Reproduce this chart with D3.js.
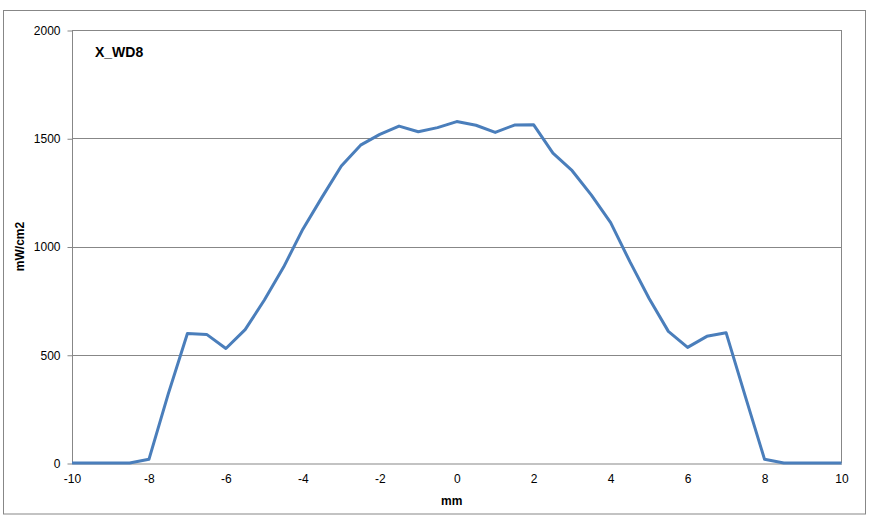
<!DOCTYPE html>
<html><head><meta charset="utf-8">
<script src="https://cdn.jsdelivr.net/npm/d3@7/dist/d3.min.js"></script>
<style>body{margin:0;background:#fff}svg{display:block}text{font-family:"Liberation Sans",Arial,sans-serif}</style>
</head><body><svg id="c" width="870" height="526"></svg>
<script>
const xValues = [-10,-9.5,-9,-8.5,-8,-7.5,-7,-6.5,-6,-5.5,-5,-4.5,-4,-3.5,-3,-2.5,-2,-1.5,-1,-0.5,0,0.5,1,1.5,2,2.5,3,3.5,4,4.5,5,5.5,6,6.5,7,7.5,8,8.5,9,9.5,10];
const yValues = [0,0,0,0,17,318,598,594,529,616,753,905,1080,1228,1372,1468,1518,1556,1530,1549,1577,1560,1527,1561,1562,1431,1350,1237,1110,930,760,608,534,585,602,308,17,0,0,0,0];
const xTicks = [-10,-8,-6,-4,-2,0,2,4,6,8,10];
const yTicks = [0,500,1000,1500,2000];
const title = "X_WD8", xLabel = "mm", yLabel = "mW/cm2";

const svg = d3.select("#c");
const L = 72, R = 841.5, T = 30, B = 463;
const x = d3.scaleLinear().domain([-10,10]).range([L,R]);
const y = d3.scaleLinear().domain([0,2000]).range([B,T]);
const grid = "#878787";

svg.append("rect").attr("x",3.5).attr("y",10.5).attr("width",862).attr("height",503.5)
  .attr("fill","none").attr("stroke",grid).attr("stroke-width",1);

// gridlines
svg.append("g").selectAll("line").data(yTicks.filter(d=>d>0)).join("line")
  .attr("x1",L).attr("x2",R).attr("y1",d=>Math.round(y(d))+0.5).attr("y2",d=>Math.round(y(d))+0.5)
  .attr("stroke",grid).attr("stroke-width",1);
// right border of plot
svg.append("line").attr("x1",R).attr("x2",R).attr("y1",T).attr("y2",B).attr("stroke",grid);

// y axis
const ya = svg.append("g").attr("transform",`translate(${L+0.5},0.5)`)
  .call(d3.axisLeft(y).tickValues(yTicks).tickSize(5).tickSizeOuter(0).tickPadding(7).tickFormat(d=>String(d)));
ya.selectAll("path,line").attr("stroke",grid);
ya.selectAll("text").attr("font-size",12).attr("fill","#000");
ya.select(".domain").attr("d",`M0,${T}V${B}`);

// x axis
const xa = svg.append("g").attr("transform",`translate(0,${B+0.5})`)
  .call(d3.axisBottom(x).tickValues(xTicks).tickSize(0).tickSizeOuter(0).tickPadding(11).tickFormat(d=>String(d)));
xa.selectAll("path").attr("stroke",grid);
xa.selectAll("text").attr("font-size",12).attr("fill","#000");

// line
svg.append("path").datum(xValues.map((v,i)=>[v,yValues[i]]))
  .attr("fill","none").attr("stroke","#4a7ebb").attr("stroke-width",3).attr("stroke-linejoin","round")
  .attr("d",d3.line().x(d=>x(d[0])).y(d=>y(d[1])));

svg.append("text").attr("x",95).attr("y",57).attr("font-size",14).attr("font-weight","bold").text(title);
svg.append("text").attr("x",x(0)-5).attr("y",505).attr("text-anchor","middle").attr("font-size",12).attr("font-weight","bold").text(xLabel);
svg.append("text").attr("transform",`translate(24,${(T+B)/2}) rotate(-90)`).attr("text-anchor","middle")
  .attr("font-size",12).attr("font-weight","bold").text(yLabel);
</script></body></html>
